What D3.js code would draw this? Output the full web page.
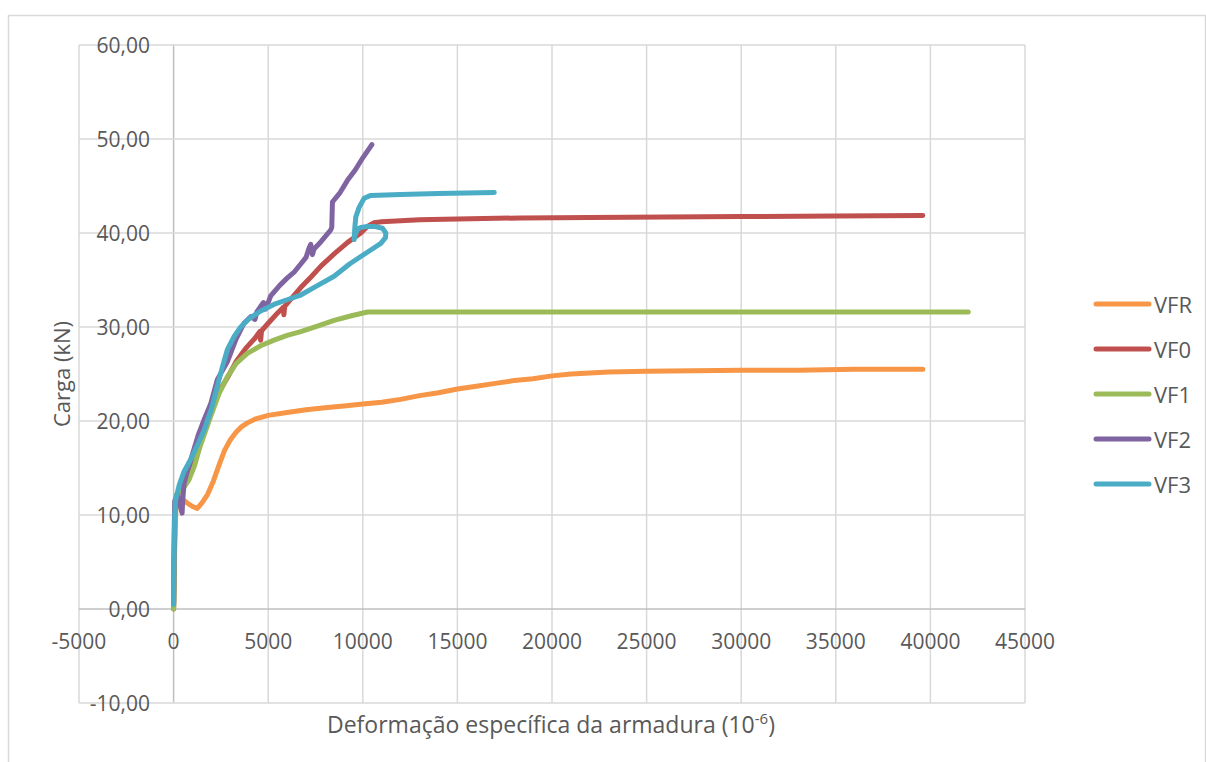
<!DOCTYPE html>
<html>
<head>
<meta charset="utf-8">
<script src="https://d3js.org/d3.v7.min.js"></script>
<style>
  body { margin: 0; background: #fff; }
  text { font-family: "Open Sans", sans-serif; fill: #595959; }
</style>
</head>
<body>
<svg width="1206" height="762"></svg>
<script>
// [deformação (10^-6), carga (kN)]
const VFR = [[0,0],[20,3],[60,7],[120,10.5],[250,11.6],[400,11.8],[700,11.3],[1000,10.9],[1250,10.7],
  [1500,11.3],[1800,12.2],[2100,13.6],[2400,15.3],[2700,16.9],[3000,18.0],[3300,18.8],[3600,19.4],
  [3900,19.8],[4300,20.2],[5000,20.6],[6000,20.9],[7000,21.2],[8000,21.4],[9000,21.6],[10000,21.8],
  [11000,22.0],[12000,22.3],[13000,22.7],[14000,23.0],[15000,23.4],[16000,23.7],[17000,24.0],
  [18000,24.3],[19000,24.5],[20000,24.8],[21000,25.0],[22000,25.1],[23000,25.2],[25000,25.3],
  [27500,25.35],[30000,25.4],[33000,25.4],[36000,25.5],[39600,25.5]];

const VF0 = [[0,0],[30,5],[60,9],[100,11.5],[300,12.5],[723,13.6],[1000,15.6],[1400,18.2],[1782,20.5],
  [2300,22.8],[2900,24.8],[3300,26.3],[3800,27.7],[4300,28.8],[4550,29.5],[4600,28.6],[4650,29.6],
  [5000,30.4],[5500,31.5],[5800,32.1],[5830,31.3],[5870,32.2],[6300,33.2],[6720,34.2],[7300,35.4],
  [7800,36.5],[8500,37.8],[9200,39.0],[9894,40.0],[10247,40.7],[10600,41.1],[11000,41.2],
  [13000,41.4],[15000,41.5],[18360,41.6],[22000,41.65],[26000,41.7],[30000,41.75],[35000,41.8],
  [39600,41.85]];

const VF1 = [[0,0],[20,1],[50,6],[90,11],[150,12.2],[500,12.8],[800,13.7],[1100,15.2],[1400,17.3],
  [1958,20.5],[2400,22.9],[2840,24.7],[3300,26.1],[3898,27.2],[4600,28.0],[5308,28.6],[6000,29.1],
  [6720,29.5],[7600,30.1],[8483,30.7],[9400,31.2],[10247,31.6],[15000,31.6],[25000,31.6],
  [35000,31.6],[42000,31.6]];

const VF2 = [[0,0.6],[10,3],[30,8],[60,11.5],[200,12.2],[450,10.2],[480,11.5],[550,13.3],[700,14.5],
  [1000,16.5],[1300,18.5],[1605,20.1],[1958,21.8],[2310,24.4],[2840,26.3],[3300,28.7],[3722,30.4],
  [4074,31.1],[4300,30.8],[4400,31.6],[4603,32.2],[4750,32.6],[4850,31.9],[5000,32.6],[5132,33.3],
  [5600,34.4],[6000,35.2],[6400,35.9],[6720,36.7],[7000,37.4],[7160,38.4],[7250,38.8],[7337,37.7],
  [7425,38.3],[7800,39.1],[8300,40.3],[8360,40.6],[8395,43.3],[8800,44.3],[9190,45.6],[9600,46.7],
  [10000,48.0],[10480,49.4]];

const VF3 = [[0,0.5],[0,1.7],[20,6],[60,10],[106,11.6],[300,13.2],[547,14.6],[900,15.9],[1250,17.4],
  [1605,19.0],[2000,21.3],[2310,23.7],[2600,25.9],[2840,27.6],[3200,29.0],[3545,30.0],[4000,30.9],
  [4603,31.7],[5300,32.4],[6000,32.9],[6720,33.4],[7600,34.4],[8483,35.4],[9300,36.7],[9894,37.5],
  [10500,38.3],[10952,38.9],[11200,39.5],[11217,40.0],[11040,40.5],[10600,40.7],[10247,40.7],
  [9900,40.6],[9718,40.4],[9600,39.8],[9541,39.3],[9580,40.6],[9630,41.7],[9800,42.7],[10070,43.7],
  [10423,44.0],[12000,44.1],[14000,44.2],[16950,44.3]];

const seriesNames = ['VFR', 'VF0', 'VF1', 'VF2', 'VF3'];
const seriesData = [VFR, VF0, VF1, VF2, VF3];
const seriesColors = ['#F79646', '#C0504D', '#9BBB59', '#8064A2', '#4BACC6'];
const xTicks = [-5000, 0, 5000, 10000, 15000, 20000, 25000, 30000, 35000, 40000, 45000];
const yTicks = [-10, 0, 10, 20, 30, 40, 50, 60];

const svg = d3.select('svg');

// chart area border
svg.append('rect')
  .attr('x', 8.5).attr('y', 15.5).attr('width', 1197).attr('height', 800)
  .attr('fill', 'none').attr('stroke', '#d9d9d9').attr('stroke-width', 1.5);

const x = d3.scaleLinear().domain([-5000, 45000]).range([79, 1025]);
const y = d3.scaleLinear().domain([-10, 60]).range([703, 45]);

const grid = svg.append('g');
grid.selectAll('line.vg').data(xTicks).join('line')
  .attr('class', 'vg')
  .attr('x1', d => x(d)).attr('x2', d => x(d))
  .attr('y1', y(60)).attr('y2', y(-10))
  .attr('stroke', d => d === 0 ? '#bfbfbf' : '#d9d9d9')
  .attr('stroke-width', 1.5);
grid.selectAll('line.hg').data(yTicks).join('line')
  .attr('class', 'hg')
  .attr('x1', x(-5000)).attr('x2', x(45000))
  .attr('y1', d => y(d)).attr('y2', d => y(d))
  .attr('stroke', d => d === 0 ? '#bfbfbf' : '#d9d9d9')
  .attr('stroke-width', 1.5);

// tick labels (Excel style: at the axes crossing at 0)
svg.append('g').selectAll('text').data(yTicks).join('text')
  .attr('x', 150).attr('y', d => y(d))
  .attr('text-anchor', 'end').attr('dominant-baseline', 'central')
  .style('font-size', '21px')
  .text(d => d.toFixed(2).replace('.', ','));

svg.append('g').selectAll('text').data(xTicks).join('text')
  .attr('x', d => x(d)).attr('y', y(0) + 32)
  .attr('text-anchor', 'middle').attr('dominant-baseline', 'central')
  .style('font-size', '21px')
  .text(d => String(d));

// series
const line = d3.line().x(d => x(d[0])).y(d => y(d[1]));
svg.append('g').selectAll('path').data(seriesData).join('path')
  .attr('d', line)
  .attr('fill', 'none')
  .attr('stroke', (d, i) => seriesColors[i])
  .attr('stroke-width', 5)
  .attr('stroke-linejoin', 'round')
  .attr('stroke-linecap', 'round');

// axis titles
svg.append('text')
  .attr('transform', 'translate(61,374) rotate(-90)')
  .attr('text-anchor', 'middle').attr('dominant-baseline', 'central')
  .style('font-size', '22px')
  .text('Carga (kN)');

const xt = svg.append('text')
  .attr('x', 551).attr('y', 733)
  .attr('text-anchor', 'middle')
  .style('font-size', '23px');
xt.append('tspan').text('Deformação específica da armadura (10');
xt.append('tspan').attr('dy', -9).style('font-size', '15px').text('-6');
xt.append('tspan').attr('dy', 9).text(')');

// legend
const legend = svg.append('g').selectAll('g').data(seriesNames).join('g')
  .attr('transform', (d, i) => `translate(0,${304 + i * 45})`);
legend.append('line')
  .attr('x1', 1096).attr('x2', 1149)
  .attr('stroke', (d, i) => seriesColors[i])
  .attr('stroke-width', 5).attr('stroke-linecap', 'round');
legend.append('text')
  .attr('x', 1154).attr('dominant-baseline', 'central')
  .style('font-size', '22px')
  .text(d => d);
</script>
</body>
</html>
